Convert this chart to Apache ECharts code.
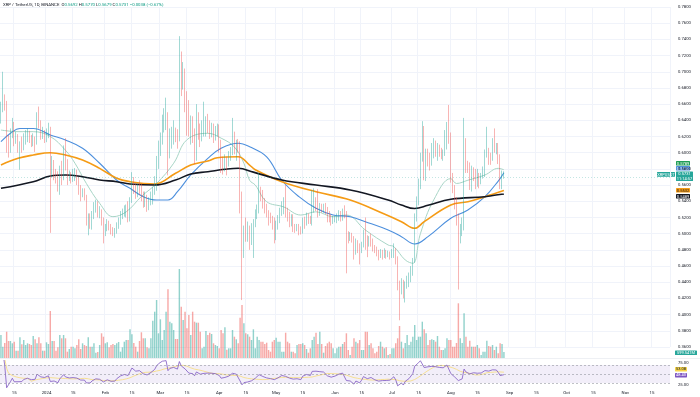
<!DOCTYPE html>
<html>
<head>
<meta charset="utf-8">
<script src="https://cdn.jsdelivr.net/npm/echarts@6/dist/echarts.min.js"></script>
<style>
  html, body { margin: 0; padding: 0; background: #fff; }
  #chart { width: 700px; height: 397px; }
</style>
</head>
<body>
<div id="chart"></div>
<script>
// XRP / TetherUS daily, 2023-12-08 .. 2024-08-29 (axis runs on to late Nov)
const firstDay = Date.UTC(2023, 11, 8);
const dayCount = 353;
const firstOpen = 0.640;
const months = ['Jan', 'Feb', 'Mar', 'Apr', 'May', 'Jun', 'Jul', 'Aug', 'Sep', 'Oct', 'Nov', 'Dec'];

const closes = [
  // Dec
  0.655, 0.668, 0.662, 0.614, 0.611, 0.626, 0.637, 0.614, 0.620, 0.608, 0.611, 0.606,
  0.617, 0.620, 0.624, 0.619, 0.612, 0.618, 0.612, 0.642, 0.636, 0.622, 0.626, 0.617,
  // Jan
  0.624, 0.626, 0.578, 0.588, 0.575, 0.572, 0.556, 0.578, 0.569, 0.605, 0.584, 0.567, 0.571, 0.567, 0.572, 0.577,
  0.566, 0.556, 0.548, 0.552, 0.545, 0.516, 0.519, 0.512, 0.522, 0.532, 0.533, 0.524, 0.527, 0.513, 0.505,
  // Feb
  0.506, 0.514, 0.509, 0.503, 0.500, 0.502, 0.511, 0.514, 0.522, 0.526, 0.528, 0.532, 0.524, 0.540, 0.562,
  0.557, 0.549, 0.556, 0.553, 0.551, 0.540, 0.545, 0.535, 0.540, 0.546, 0.553, 0.562, 0.586, 0.605,
  // Mar
  0.613, 0.635, 0.640, 0.643, 0.596, 0.617, 0.624, 0.627, 0.622, 0.618, 0.722, 0.690, 0.695, 0.668, 0.655, 0.628,
  0.640, 0.624, 0.600, 0.644, 0.625, 0.619, 0.624, 0.628, 0.637, 0.631, 0.625, 0.630, 0.618, 0.626, 0.629,
  // Apr
  0.612, 0.586, 0.582, 0.590, 0.586, 0.597, 0.600, 0.617, 0.604, 0.610, 0.605, 0.548, 0.487, 0.503, 0.498,
  0.505, 0.496, 0.508, 0.511, 0.526, 0.528, 0.553, 0.549, 0.537, 0.533, 0.524, 0.520, 0.518, 0.514, 0.509,
  // May
  0.512, 0.518, 0.528, 0.530, 0.532, 0.525, 0.521, 0.515, 0.520, 0.507, 0.506, 0.508, 0.504, 0.503, 0.515, 0.514,
  0.521, 0.518, 0.517, 0.533, 0.538, 0.535, 0.529, 0.534, 0.530, 0.533, 0.530, 0.520, 0.518, 0.515, 0.517,
  // Jun
  0.518, 0.521, 0.523, 0.520, 0.526, 0.523, 0.500, 0.496, 0.497, 0.493, 0.480, 0.488, 0.483, 0.478, 0.485,
  0.496, 0.492, 0.487, 0.492, 0.490, 0.483, 0.480, 0.475, 0.474, 0.477, 0.474, 0.476, 0.473, 0.475, 0.473,
  // Jul
  0.476, 0.480, 0.470, 0.437, 0.430, 0.440, 0.424, 0.436, 0.440, 0.446, 0.452, 0.467, 0.518, 0.540, 0.560, 0.595,
  0.633, 0.574, 0.598, 0.592, 0.590, 0.600, 0.610, 0.603, 0.606, 0.600, 0.597, 0.598, 0.612, 0.630, 0.622,
  // Aug
  0.572, 0.557, 0.540, 0.520, 0.495, 0.502, 0.508, 0.616, 0.583, 0.582, 0.560, 0.577, 0.575, 0.560, 0.570,
  0.565, 0.572, 0.577, 0.598, 0.602, 0.595, 0.592, 0.609, 0.606, 0.608, 0.592, 0.567, 0.5692, 0.5731
];

const highs = [
  0.663, 0.700, 0.672, 0.664, 0.622, 0.630, 0.643, 0.638, 0.626, 0.623, 0.614, 0.620,
  0.624, 0.628, 0.630, 0.627, 0.622, 0.624, 0.620, 0.650, 0.657, 0.640, 0.632, 0.628,
  0.630, 0.637, 0.632, 0.596, 0.591, 0.580, 0.577, 0.584, 0.590, 0.609, 0.618, 0.592, 0.578, 0.576, 0.580, 0.581,
  0.579, 0.570, 0.560, 0.556, 0.556, 0.548, 0.525, 0.525, 0.528, 0.539, 0.542, 0.540, 0.534, 0.530, 0.520,
  0.512, 0.518, 0.516, 0.512, 0.508, 0.507, 0.514, 0.520, 0.528, 0.531, 0.535, 0.536, 0.540, 0.545, 0.576,
  0.570, 0.562, 0.561, 0.566, 0.562, 0.552, 0.552, 0.548, 0.545, 0.552, 0.558, 0.571, 0.596, 0.615,
  0.625, 0.647, 0.655, 0.668, 0.650, 0.630, 0.632, 0.640, 0.631, 0.629, 0.744, 0.725, 0.712, 0.704, 0.676, 0.665,
  0.646, 0.645, 0.630, 0.660, 0.650, 0.636, 0.640, 0.663, 0.645, 0.648, 0.640, 0.637, 0.636, 0.633, 0.636,
  0.635, 0.616, 0.595, 0.598, 0.595, 0.602, 0.607, 0.643, 0.626, 0.616, 0.617, 0.614, 0.552, 0.510, 0.520,
  0.515, 0.510, 0.513, 0.518, 0.530, 0.536, 0.575, 0.558, 0.554, 0.544, 0.537, 0.529, 0.526, 0.522, 0.520,
  0.516, 0.523, 0.532, 0.540, 0.545, 0.560, 0.532, 0.527, 0.524, 0.524, 0.512, 0.512, 0.512, 0.509, 0.520, 0.521,
  0.526, 0.525, 0.522, 0.554, 0.556, 0.545, 0.555, 0.538, 0.537, 0.537, 0.538, 0.533, 0.528, 0.524, 0.522,
  0.522, 0.525, 0.529, 0.528, 0.531, 0.535, 0.528, 0.503, 0.502, 0.501, 0.497, 0.494, 0.492, 0.488, 0.490,
  0.505, 0.520, 0.498, 0.497, 0.500, 0.494, 0.486, 0.484, 0.480, 0.481, 0.480, 0.482, 0.480, 0.479, 0.478,
  0.481, 0.488, 0.482, 0.472, 0.442, 0.445, 0.443, 0.441, 0.448, 0.452, 0.460, 0.470, 0.525, 0.546, 0.568, 0.600,
  0.639, 0.630, 0.605, 0.605, 0.600, 0.612, 0.618, 0.615, 0.612, 0.610, 0.606, 0.604, 0.628, 0.638, 0.659,
  0.625, 0.575, 0.560, 0.545, 0.525, 0.512, 0.520, 0.643, 0.618, 0.590, 0.588, 0.584, 0.582, 0.580, 0.580,
  0.575, 0.575, 0.583, 0.604, 0.632, 0.606, 0.600, 0.618, 0.630, 0.612, 0.612, 0.598, 0.578, 0.5770
];

const lows = [
  0.636, 0.650, 0.652, 0.600, 0.594, 0.600, 0.618, 0.608, 0.611, 0.600, 0.579, 0.600,
  0.603, 0.610, 0.613, 0.612, 0.607, 0.608, 0.601, 0.610, 0.630, 0.616, 0.617, 0.612,
  0.613, 0.618, 0.501, 0.570, 0.566, 0.562, 0.552, 0.548, 0.560, 0.566, 0.578, 0.560, 0.565, 0.562, 0.564, 0.565,
  0.560, 0.548, 0.540, 0.545, 0.541, 0.510, 0.498, 0.506, 0.505, 0.518, 0.526, 0.520, 0.519, 0.510, 0.488,
  0.497, 0.503, 0.504, 0.499, 0.497, 0.495, 0.500, 0.506, 0.511, 0.518, 0.521, 0.520, 0.514, 0.515, 0.538,
  0.549, 0.543, 0.545, 0.548, 0.540, 0.532, 0.533, 0.527, 0.529, 0.535, 0.536, 0.548, 0.553, 0.580,
  0.596, 0.610, 0.625, 0.628, 0.572, 0.593, 0.605, 0.610, 0.613, 0.605, 0.614, 0.670, 0.678, 0.650, 0.621, 0.620,
  0.610, 0.612, 0.586, 0.590, 0.616, 0.607, 0.614, 0.620, 0.620, 0.624, 0.617, 0.619, 0.612, 0.615, 0.620,
  0.600, 0.575, 0.573, 0.577, 0.572, 0.583, 0.590, 0.597, 0.598, 0.590, 0.600, 0.525, 0.418, 0.470, 0.490,
  0.490, 0.480, 0.486, 0.470, 0.508, 0.518, 0.525, 0.540, 0.531, 0.525, 0.520, 0.510, 0.513, 0.505, 0.488,
  0.492, 0.505, 0.513, 0.522, 0.524, 0.520, 0.515, 0.508, 0.509, 0.502, 0.501, 0.503, 0.498, 0.499, 0.500, 0.506,
  0.510, 0.512, 0.512, 0.510, 0.526, 0.528, 0.520, 0.522, 0.526, 0.526, 0.524, 0.514, 0.514, 0.510, 0.512,
  0.514, 0.513, 0.516, 0.515, 0.516, 0.519, 0.451, 0.488, 0.491, 0.489, 0.468, 0.474, 0.476, 0.462, 0.476,
  0.483, 0.480, 0.471, 0.484, 0.484, 0.478, 0.476, 0.472, 0.467, 0.470, 0.468, 0.470, 0.469, 0.471, 0.468,
  0.470, 0.470, 0.462, 0.430, 0.393, 0.425, 0.420, 0.415, 0.432, 0.434, 0.440, 0.448, 0.464, 0.515, 0.535, 0.555,
  0.589, 0.566, 0.565, 0.583, 0.578, 0.584, 0.593, 0.595, 0.590, 0.595, 0.592, 0.590, 0.596, 0.604, 0.611,
  0.563, 0.550, 0.530, 0.510, 0.431, 0.488, 0.497, 0.504, 0.575, 0.575, 0.554, 0.552, 0.565, 0.555, 0.558,
  0.556, 0.561, 0.568, 0.570, 0.594, 0.585, 0.585, 0.590, 0.600, 0.598, 0.586, 0.555, 0.555, 0.5679
];

// volume, millions of XRP
const volumes = [
  2300, 1130, 1500, 2630, 1700, 1700, 1470, 1630, 730, 730, 2070, 1370, 1800, 1300, 1470, 1400, 1300, 2200,
  1870, 1470, 2070, 1470, 730, 730,
  1570, 1400, 4700, 1700, 1700, 730, 1070, 2300, 1970, 2300, 1970, 630, 900, 1130, 1130, 970, 1300, 1870,
  900, 1470, 1300, 1200, 2070, 1130, 1130, 1470, 530, 600, 1300, 2470, 2130,
  1470, 1570, 1070, 1300, 1400, 1300, 1470, 1600, 630, 1070, 1630, 1800, 1800, 2870, 2370, 1500, 1130, 630,
  1700, 2570, 1970, 1970, 1070, 970, 1970, 3730, 4630, 5800, 2470,
  3870, 1800, 2800, 4630, 6870, 3630, 3470, 2800, 1900, 1900, 8900, 5130, 3800, 4630, 2970, 4300, 2300, 4630,
  3630, 3530, 3530, 2630, 970, 1130, 2700, 2300, 2530, 2400, 1470, 1300, 1200,
  970, 2800, 2470, 3070, 830, 970, 970, 2800, 2130, 1870, 1470, 4030, 5300, 3470, 2470, 2370, 2130, 1800,
  2870, 970, 2130, 1800, 1630, 1630, 1400, 1530, 800, 630, 1630, 1800,
  2030, 1630, 1630, 630, 630, 2530, 1630, 1470, 630, 630, 470, 1300, 1400, 1400, 1470, 1300, 900, 530,
  970, 1800, 2130, 2530, 1400, 2630, 1400, 530, 1200, 1470, 1630, 1470, 970,
  470, 970, 1130, 1130, 1400, 1600, 2470, 800, 300, 1130, 1970, 1630, 1470, 1800, 800, 800, 2630, 2630,
  1300, 1470, 970, 470, 630, 1200, 1630, 1130, 970, 1070, 300, 400,
  970, 970, 1470, 1970, 3200, 1630, 970, 1500, 2300, 1300, 1630, 2130, 3300, 1800, 2130, 2130, 3630, 2870,
  2470, 1300, 1800, 1870, 1800, 1630, 2200, 1130, 800, 800, 970, 1970, 1800,
  1800, 1130, 1130, 1500, 5470, 1970, 1500, 4470, 2130, 1130, 1730, 1130, 1130, 1130, 1300, 970, 300, 630,
  630, 1730, 1200, 1130, 1300, 800, 1130, 470, 1470, 1400, 599.541
];

// moving averages at a few dates
const maFast = [
  ['2023-12-08', 0.628], ['2023-12-17', 0.626], ['2023-12-25', 0.626], ['2024-01-03', 0.620],
  ['2024-01-11', 0.603], ['2024-01-16', 0.587], ['2024-01-22', 0.562], ['2024-01-29', 0.5375],
  ['2024-02-05', 0.521], ['2024-02-12', 0.527], ['2024-02-20', 0.546], ['2024-02-28', 0.562],
  ['2024-03-08', 0.587], ['2024-03-15', 0.616], ['2024-03-26', 0.624], ['2024-04-02', 0.618],
  ['2024-04-09', 0.607], ['2024-04-14', 0.587], ['2024-04-17', 0.566], ['2024-04-20', 0.560],
  ['2024-04-26', 0.5395], ['2024-05-05', 0.533], ['2024-05-14', 0.523], ['2024-05-22', 0.527],
  ['2024-05-31', 0.521], ['2024-06-07', 0.523], ['2024-06-17', 0.5045], ['2024-06-29', 0.486],
  ['2024-07-02', 0.484], ['2024-07-08', 0.4675], ['2024-07-12', 0.4634], ['2024-07-16', 0.500],
  ['2024-07-23', 0.5416], ['2024-08-01', 0.568], ['2024-08-04', 0.562], ['2024-08-10', 0.566],
  ['2024-08-19', 0.5725], ['2024-08-26', 0.5807], ['2024-08-29', 0.5789]
];
const maMid = [
  ['2023-12-08', 0.6136], ['2023-12-13', 0.624], ['2023-12-18', 0.630], ['2023-12-25', 0.630],
  ['2024-01-03', 0.622], ['2024-01-11', 0.6157], ['2024-01-20', 0.6055], ['2024-01-29', 0.587],
  ['2024-02-07', 0.566], ['2024-02-14', 0.556], ['2024-02-21', 0.5457], ['2024-02-28', 0.5416],
  ['2024-03-05', 0.5416], ['2024-03-10', 0.5518], ['2024-03-17', 0.5725], ['2024-03-26', 0.593],
  ['2024-04-02', 0.6055], ['2024-04-11', 0.6116], ['2024-04-17', 0.6074], ['2024-04-26', 0.595],
  ['2024-05-04', 0.566], ['2024-05-13', 0.5457], ['2024-05-22', 0.5313], ['2024-05-31', 0.5231],
  ['2024-06-09', 0.521], ['2024-06-17', 0.5148], ['2024-06-29', 0.5045], ['2024-07-06', 0.4963],
  ['2024-07-13', 0.4872], ['2024-07-20', 0.4963], ['2024-08-01', 0.519], ['2024-08-10', 0.5292],
  ['2024-08-19', 0.5457], ['2024-08-26', 0.565], ['2024-08-29', 0.5753]
];
const maSlow = [
  ['2023-12-08', 0.5848], ['2023-12-17', 0.5931], ['2023-12-25', 0.5972], ['2024-01-03', 0.600],
  ['2024-01-11', 0.5972], ['2024-01-20', 0.591], ['2024-01-29', 0.5807], ['2024-02-07', 0.5684],
  ['2024-02-14', 0.5642], ['2024-02-27', 0.5614], ['2024-03-09', 0.5746], ['2024-03-17', 0.5848],
  ['2024-03-26', 0.5898], ['2024-03-31', 0.5938], ['2024-04-11', 0.5951], ['2024-04-17', 0.5848],
  ['2024-04-20', 0.579], ['2024-05-04', 0.5642], ['2024-05-22', 0.5518], ['2024-06-09', 0.5416],
  ['2024-06-27', 0.5243], ['2024-07-06', 0.5148], ['2024-07-13', 0.5066], ['2024-07-18', 0.5148],
  ['2024-08-01', 0.5354], ['2024-08-10', 0.5395], ['2024-08-19', 0.5457], ['2024-08-29', 0.5532]
];
const ma200 = [
  ['2023-12-08', 0.556], ['2023-12-25', 0.5642], ['2024-01-03', 0.5712], ['2024-01-11', 0.5725],
  ['2024-01-20', 0.5704], ['2024-01-29', 0.5663], ['2024-02-07', 0.5642], ['2024-02-14', 0.5614],
  ['2024-02-27', 0.5601], ['2024-03-09', 0.5663], ['2024-03-17', 0.5737], ['2024-03-26', 0.5765],
  ['2024-04-04', 0.5795], ['2024-04-11', 0.5808], ['2024-04-19', 0.576], ['2024-05-04', 0.5663],
  ['2024-05-22', 0.5601], ['2024-06-09', 0.5539], ['2024-06-29', 0.5416], ['2024-07-06', 0.5354],
  ['2024-07-13', 0.531], ['2024-07-20', 0.535], ['2024-08-01', 0.5425], ['2024-08-19', 0.5457],
  ['2024-08-29', 0.5489]
];

const priceTicks = { min: 0.36, max: 0.78, step: 0.02 };
const rsiTicks = [25, 75];
const rsiLast = '48.40';
const rsiMaLast = '53.08';
const changeText = '\u22120.0038 (\u22120.67%)';

const upColor = '#26a69a';
const downColor = '#ef5350';

const dates = [];
for (let i = 0; i < dayCount; i++) {
  dates.push(new Date(firstDay + i * 86400000).toISOString().slice(0, 10));
}

const opens = closes.map((c, i) => i ? closes[i - 1] : firstOpen);
const candles = closes.map((c, i) => {
  const o = opens[i];
  return [o, c, Math.min(lows[i], o, c), Math.max(highs[i], o, c)];
});
const volumeBars = volumes.map((v, i) => ({
  value: v,
  itemStyle: { color: closes[i] >= opens[i] ? 'rgba(38,166,154,0.5)' : 'rgba(239,83,80,0.5)' }
}));

function calcRsi(src, len) {
  const out = [null];
  let up = 0, down = 0;
  for (let i = 1; i < src.length; i++) {
    const ch = src[i] - src[i - 1];
    const n = Math.min(i, len);
    up = (up * (n - 1) + Math.max(ch, 0)) / n;
    down = (down * (n - 1) + Math.max(-ch, 0)) / n;
    out.push(down === 0 ? 100 : 100 - 100 / (1 + up / down));
  }
  return out;
}
function calcSma(src, len) {
  return src.map((v, i) => {
    const win = src.slice(Math.max(0, i - len + 1), i + 1).filter(x => x != null);
    return win.length ? win.reduce((a, b) => a + b, 0) / win.length : null;
  });
}
const rsi = calcRsi(closes, 14);
const rsiMa = calcSma(rsi, 14);

const isTick = (idx, val) => val.slice(8) === '01' || val.slice(8) === '15';
function tickText(val) {
  const d = val.slice(8), m = +val.slice(5, 7);
  if (d === '15') return '15';
  return m === 1 ? val.slice(0, 4) : months[m - 1];
}

const font = 'Roboto, "Liberation Sans", sans-serif';
const gridSide = { left: 0, right: 30 };

function tag(x, y, w, h, bg, text, fg) {
  return {
    type: 'group', x: x, y: y, z: 100,
    children: [
      { type: 'rect', shape: { width: w, height: h, r: 0.6 }, style: { fill: bg } },
      { type: 'text', x: w / 2, y: h / 2 + 0.2,
        style: { text: text, fill: fg, font: '4px ' + font, align: 'center', verticalAlign: 'middle' } }
    ]
  };
}
const last = arr => arr[arr.length - 1][1];
const n = closes.length - 1;

const chart = echarts.init(document.getElementById('chart'));
chart.setOption({
  animation: false,
  backgroundColor: '#ffffff',
  grid: [
    { ...gridSide, top: 7, height: 340 },
    { ...gridSide, top: 258, height: 100 },
    { ...gridSide, top: 360.5, height: 27 }
  ],
  xAxis: [0, 1, 2].map(g => ({
    type: 'category',
    gridIndex: g,
    data: dates,
    boundaryGap: true,
    axisLine: { show: false },
    axisTick: { show: false },
    axisLabel: g === 2 ? {
      interval: isTick, formatter: tickText, fontSize: 4.3, color: '#131722',
      fontFamily: font, margin: 3
    } : { show: false },
    splitLine: { show: g === 0, interval: isTick, lineStyle: { color: '#f0f3fa', width: 1 } }
  })),
  yAxis: [
    {
      gridIndex: 0, position: 'right', scale: true,
      min: priceTicks.min, max: priceTicks.max, interval: priceTicks.step,
      axisLine: { show: false }, axisTick: { show: false },
      axisLabel: { formatter: v => v.toFixed(4), fontSize: 4.2, color: '#131722', fontFamily: font, margin: 8 },
      splitLine: { lineStyle: { color: '#f0f3fa', width: 1 } }
    },
    { gridIndex: 1, min: 0, max: 10000, show: false, splitLine: { show: false } },
    {
      gridIndex: 2, position: 'right', min: 20, max: 80, interval: 5,
      axisLine: { show: false }, axisTick: { show: false },
      axisLabel: {
        formatter: v => rsiTicks.includes(v) ? v.toFixed(2) : '',
        fontSize: 4.2, color: '#131722', fontFamily: font, margin: 8
      },
      splitLine: { show: false }
    }
  ],
  series: [
    {
      type: 'bar', xAxisIndex: 1, yAxisIndex: 1, data: volumeBars,
      barWidth: '75%', z: 1, silent: true
    },
    {
      type: 'candlestick', xAxisIndex: 0, yAxisIndex: 0, data: candles, z: 4,
      barWidth: '62%',
      itemStyle: {
        color: upColor, color0: downColor, borderColor: upColor, borderColor0: downColor,
        borderWidth: 0.6, opacity: 0.72
      }
    },
    {
      type: 'line', data: maFast, smooth: 0.4, showSymbol: false, z: 3,
      lineStyle: { color: '#a8d5c6', width: 1 },
      markLine: {
        silent: true, symbol: 'none',
        label: { show: false },
        lineStyle: { color: 'rgba(38,166,154,0.4)', type: [1, 2], width: 0.7, opacity: 1 },
        data: [{ yAxis: closes[n] }]
      }
    },
    { type: 'line', data: maMid, smooth: 0.4, showSymbol: false, z: 3,
      lineStyle: { color: '#4c8fdd', width: 1.1 } },
    { type: 'line', data: maSlow, smooth: 0.4, showSymbol: false, z: 3,
      lineStyle: { color: '#f59b15', width: 1.6 } },
    { type: 'line', data: ma200, smooth: 0.4, showSymbol: false, z: 3,
      lineStyle: { color: '#131722', width: 1.6 } },
    {
      type: 'line', xAxisIndex: 2, yAxisIndex: 2, data: rsi, showSymbol: false, z: 3,
      lineStyle: { color: '#7e57c2', width: 0.8 },
      markArea: {
        silent: true,
        itemStyle: { color: 'rgba(126,87,194,0.1)' },
        data: [[{ yAxis: 70 }, { yAxis: 30 }]]
      },
      markLine: {
        silent: true, symbol: 'none', label: { show: false },
        lineStyle: { color: '#9598a1', type: [2, 2], width: 0.6 },
        data: [{ yAxis: 70 }, { yAxis: 50 }, { yAxis: 30 }]
      }
    },
    {
      type: 'line', xAxisIndex: 2, yAxisIndex: 2, data: rsiMa, showSymbol: false, z: 2,
      lineStyle: { color: '#f7dc7a', width: 0.8 }
    }
  ],
  graphic: [
    {
      type: 'text', left: 3, top: 3, z: 100,
      style: {
        text: '{t|XRP / TetherUS, 1D, BINANCE}  {k|O}{v|' + opens[n].toFixed(4) + '} {k|H}{v|' +
          highs[n].toFixed(4) + '} {k|L}{v|' + lows[n].toFixed(4) + '} {k|C}{v|' +
          closes[n].toFixed(4) + '} {v|' + changeText + '}',
        font: '4.3px ' + font,
        rich: {
          t: { fill: '#131722', font: '4.3px ' + font },
          k: { fill: '#131722', font: '4.3px ' + font },
          v: { fill: '#089981', font: '4.3px ' + font }
        }
      }
    },
    { type: 'line', shape: { x1: 0, y1: 358.5, x2: 700, y2: 358.5 }, style: { stroke: '#eef0f4', lineWidth: 1 }, z: 50 },
    tag(676, 161, 14, 4.6, '#1f9d55', last(maFast).toFixed(4), '#ffffff'),
    tag(676, 166, 14, 4.6, '#4c8fdd', last(maMid).toFixed(4), '#ffffff'),
    tag(657, 172, 18, 4.8, upColor, 'XRPUSDT', '#ffffff'),
    {
      type: 'group', x: 676, y: 171.5, z: 100,
      children: [
        { type: 'rect', shape: { width: 17, height: 9.5, r: 0.6 }, style: { fill: upColor } },
        { type: 'text', x: 8.5, y: 2.6, style: { text: closes[n].toFixed(4), fill: '#fff', font: '4px ' + font, align: 'center', verticalAlign: 'middle' } },
        { type: 'text', x: 8.5, y: 7.1, style: { text: '11:14:57', fill: '#fff', font: '4px ' + font, align: 'center', verticalAlign: 'middle' } }
      ]
    },
    tag(676, 188, 14, 4.6, '#f59b15', last(maSlow).toFixed(4), '#131722'),
    tag(676, 194, 14, 4.6, '#131722', last(ma200).toFixed(4), '#ffffff'),
    tag(675, 350.5, 22, 4.6, upColor, volumes[n].toFixed(3) + 'M', '#ffffff'),
    tag(675, 367, 12, 4.4, '#f7d54a', rsiMaLast, '#131722'),
    tag(675, 373, 12, 4.4, '#7e57c2', rsiLast, '#ffffff')
  ]
});
</script>
</body>
</html>
